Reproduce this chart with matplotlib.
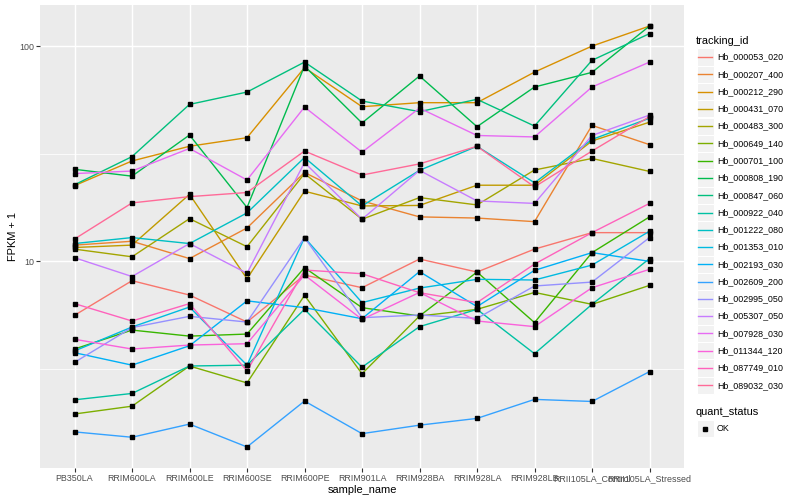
import numpy as np
import matplotlib
matplotlib.use("Agg")
import matplotlib.pyplot as plt
from matplotlib.patches import Rectangle
from matplotlib.lines import Line2D

plt.rcParams['font.family'] = ['Liberation Sans', 'DejaVu Sans']

samples = ["PB350LA", "RRIM600LA", "RRIM600LE", "RRIM600SE", "RRIM600PE",
           "RRIM901LA", "RRIM928BA", "RRIM928LA", "RRIM928LB",
           "RRII105LA_Control", "RRII105LA_Stressed"]

tracking_ids = ["Hb_000053_020", "Hb_000207_400", "Hb_000212_290", "Hb_000431_070",
                "Hb_000483_300", "Hb_000649_140", "Hb_000701_100", "Hb_000808_190",
                "Hb_000847_060", "Hb_000922_040", "Hb_001222_080", "Hb_001353_010",
                "Hb_002193_030", "Hb_002609_200", "Hb_002995_050", "Hb_005307_050",
                "Hb_007928_030", "Hb_011344_120", "Hb_087749_010", "Hb_089032_030"]

# FPKM + 1 values per gene, one value per sample
hb_000053_020 = [5.61, 8.13, 6.97, 5.22, 8.64, 7.54, 10.25, 8.92, 11.4, 13.6, 13.6]
hb_000207_400 = [11.9, 12.4, 10.3, 14.3, 25.9, 19.1, 16.1, 15.9, 15.3, 42.9, 34.9]
hb_000212_290 = [22.5, 29.3, 34.3, 37.6, 79.6, 52.4, 54.7, 54.7, 75.9, 100.3, 124.3]
hb_000431_070 = [11.6, 11.9, 20.5, 8.3, 21.2, 18.1, 18.2, 22.6, 22.6, 36.3, 44.4]
hb_000483_300 = [11.4, 10.5, 15.8, 11.7, 25.6, 15.7, 19.8, 18.3, 26.6, 30.1, 26.2]
hb_000649_140 = [1.95, 2.12, 3.26, 2.72, 6.95, 3.00, 5.57, 5.98, 7.17, 6.31, 7.73]
hb_000701_100 = [3.91, 4.79, 4.49, 4.59, 9.35, 6.09, 5.57, 8.92, 5.19, 10.98, 16.1]
hb_000808_190 = [26.8, 24.9, 38.7, 17.8, 81.0, 44.0, 72.8, 42.3, 64.7, 75.7, 124.3]
hb_000847_060 = [22.7, 30.7, 53.7, 61.3, 84.5, 55.7, 49.7, 56.7, 42.6, 86.1, 114.6]
hb_000922_040 = [2.27, 2.43, 3.26, 3.29, 5.98, 3.22, 4.97, 5.98, 3.72, 6.31, 10.3]
hb_001222_080 = [12.1, 12.9, 12.1, 16.8, 30.4, 18.1, 26.5, 34.3, 23.2, 36.9, 46.3]
hb_001353_010 = [3.83, 4.95, 6.13, 3.29, 12.9, 6.43, 7.51, 8.25, 8.19, 9.61, 13.8]
hb_002193_030 = [3.76, 3.29, 4.05, 6.55, 6.09, 5.41, 8.96, 6.16, 9.08, 10.98, 10.0]
hb_002609_200 = [1.61, 1.52, 1.75, 1.37, 2.24, 1.58, 1.73, 1.86, 2.28, 2.23, 3.07]
hb_002995_050 = [3.39, 4.92, 5.55, 5.22, 12.9, 5.47, 5.63, 5.43, 7.68, 8.01, 12.9]
hb_005307_050 = [10.4, 8.5, 12.1, 8.8, 28.8, 15.7, 26.5, 19.1, 18.6, 38.5, 47.9]
hb_007928_030 = [25.6, 26.3, 33.5, 23.9, 52.2, 32.2, 51.6, 38.5, 37.9, 64.7, 84.5]
hb_011344_120 = [4.34, 3.91, 4.08, 4.14, 8.64, 5.37, 7.17, 5.28, 4.97, 7.54, 9.18]
hb_087749_010 = [6.36, 5.28, 6.36, 3.09, 9.11, 8.76, 7.15, 6.43, 9.71, 13.6, 18.6]
hb_089032_030 = [12.7, 18.7, 20.0, 20.9, 32.6, 25.2, 28.4, 34.3, 22.2, 32.6, 47.1]

series = [hb_000053_020, hb_000207_400, hb_000212_290, hb_000431_070, hb_000483_300,
          hb_000649_140, hb_000701_100, hb_000808_190, hb_000847_060, hb_000922_040,
          hb_001222_080, hb_001353_010, hb_002193_030, hb_002609_200, hb_002995_050,
          hb_005307_050, hb_007928_030, hb_011344_120, hb_087749_010, hb_089032_030]

colors = ["#F8766D", "#EA8331", "#D89000", "#C09B00", "#A3A500", "#7CAE00", "#39B600",
          "#00BB4E", "#00BF7D", "#00C1A3", "#00BFC4", "#00BAE0", "#00B0F6", "#35A2FF",
          "#9590FF", "#C77CFF", "#E76BF3", "#FA62DB", "#FF62BC", "#FF6A98"]

W, H = 800, 500
fig = plt.figure(figsize=(8, 5), dpi=100)
fig.patch.set_facecolor("white")

pl, pr, pt, pb = 40, 684, 5, 468
ax = fig.add_axes([pl / W, 1 - pb / H, (pr - pl) / W, (pb - pt) / H])
ax.set_facecolor("#EBEBEB")

x = np.arange(len(samples))
for vals, c in zip(series, colors):
    ax.plot(x, vals, color=c, lw=1.0, zorder=3, solid_capstyle="butt")
for vals in series:
    ax.plot(x, vals, ls="none", marker="s", ms=2.6, color="black", zorder=4)

ax.set_yscale("log")
allv = np.concatenate([np.array(s) for s in series])
lo, hi = np.log10(allv.min()), np.log10(allv.max())
pad = 0.05 * (hi - lo)
ax.set_ylim(10 ** (lo - pad), 10 ** (hi + pad))
ax.set_xlim(-0.6, len(samples) - 1 + 0.6)

ax.set_yticks([10, 100])
ax.set_yticklabels(["10", "100"])
ax.set_yticks([10 ** 0.5, 10 ** 1.5], minor=True)
ax.yaxis.set_minor_formatter(matplotlib.ticker.NullFormatter())
ax.set_xticks(x)
ax.set_xticklabels(samples)

ax.grid(True, which="major", color="white", lw=1.05)
ax.grid(True, which="minor", axis="y", color="white", lw=0.55)
ax.set_axisbelow(True)
for s in ax.spines.values():
    s.set_visible(False)
ax.tick_params(which="major", length=2.7, width=0.8, color="#333333",
               labelcolor="#4D4D4D", labelsize=6.4, pad=1.5)
ax.tick_params(which="minor", length=0)

ax.set_xlabel("sample_name", fontsize=7.9, color="black", labelpad=1.5)
ax.set_ylabel("FPKM + 1", fontsize=7.9, color="black", labelpad=1.0)

def fx(px):
    return px / W

def fy(py):
    return 1 - py / H

# legend: tracking_id
fig.text(fx(696), fy(41), "tracking_id", fontsize=7.9, va="center", ha="left")
y0, dy = 57.0, 17.28
for i, (tid, c) in enumerate(zip(tracking_ids, colors)):
    yc = y0 + i * dy
    fig.patches.append(Rectangle((fx(696.5), fy(yc + 8.6)), 17.3 / W, 17.2 / H,
                                 transform=fig.transFigure, facecolor="#F2F2F2",
                                 edgecolor="white", lw=0.8, zorder=1))
    fig.lines.append(Line2D([fx(698.3), fx(711.7)], [fy(yc), fy(yc)],
                            transform=fig.transFigure, color=c, lw=1.0, zorder=2))
    fig.text(fx(717), fy(yc), tid, fontsize=6.4, va="center", ha="left", color="black")

# legend: quant_status
fig.text(fx(696), fy(412), "quant_status", fontsize=7.9, va="center", ha="left")
yc = 428.5
fig.patches.append(Rectangle((fx(696.5), fy(yc + 8.6)), 17.3 / W, 17.2 / H,
                             transform=fig.transFigure, facecolor="#F2F2F2",
                             edgecolor="white", lw=0.8, zorder=1))
fig.lines.append(Line2D([fx(705)], [fy(yc)], transform=fig.transFigure, ls="none",
                        marker="s", ms=2.6, color="black", zorder=2))
fig.text(fx(717), fy(yc), "OK", fontsize=6.4, va="center", ha="left", color="black")

fig.savefig("out.png", dpi=100)
